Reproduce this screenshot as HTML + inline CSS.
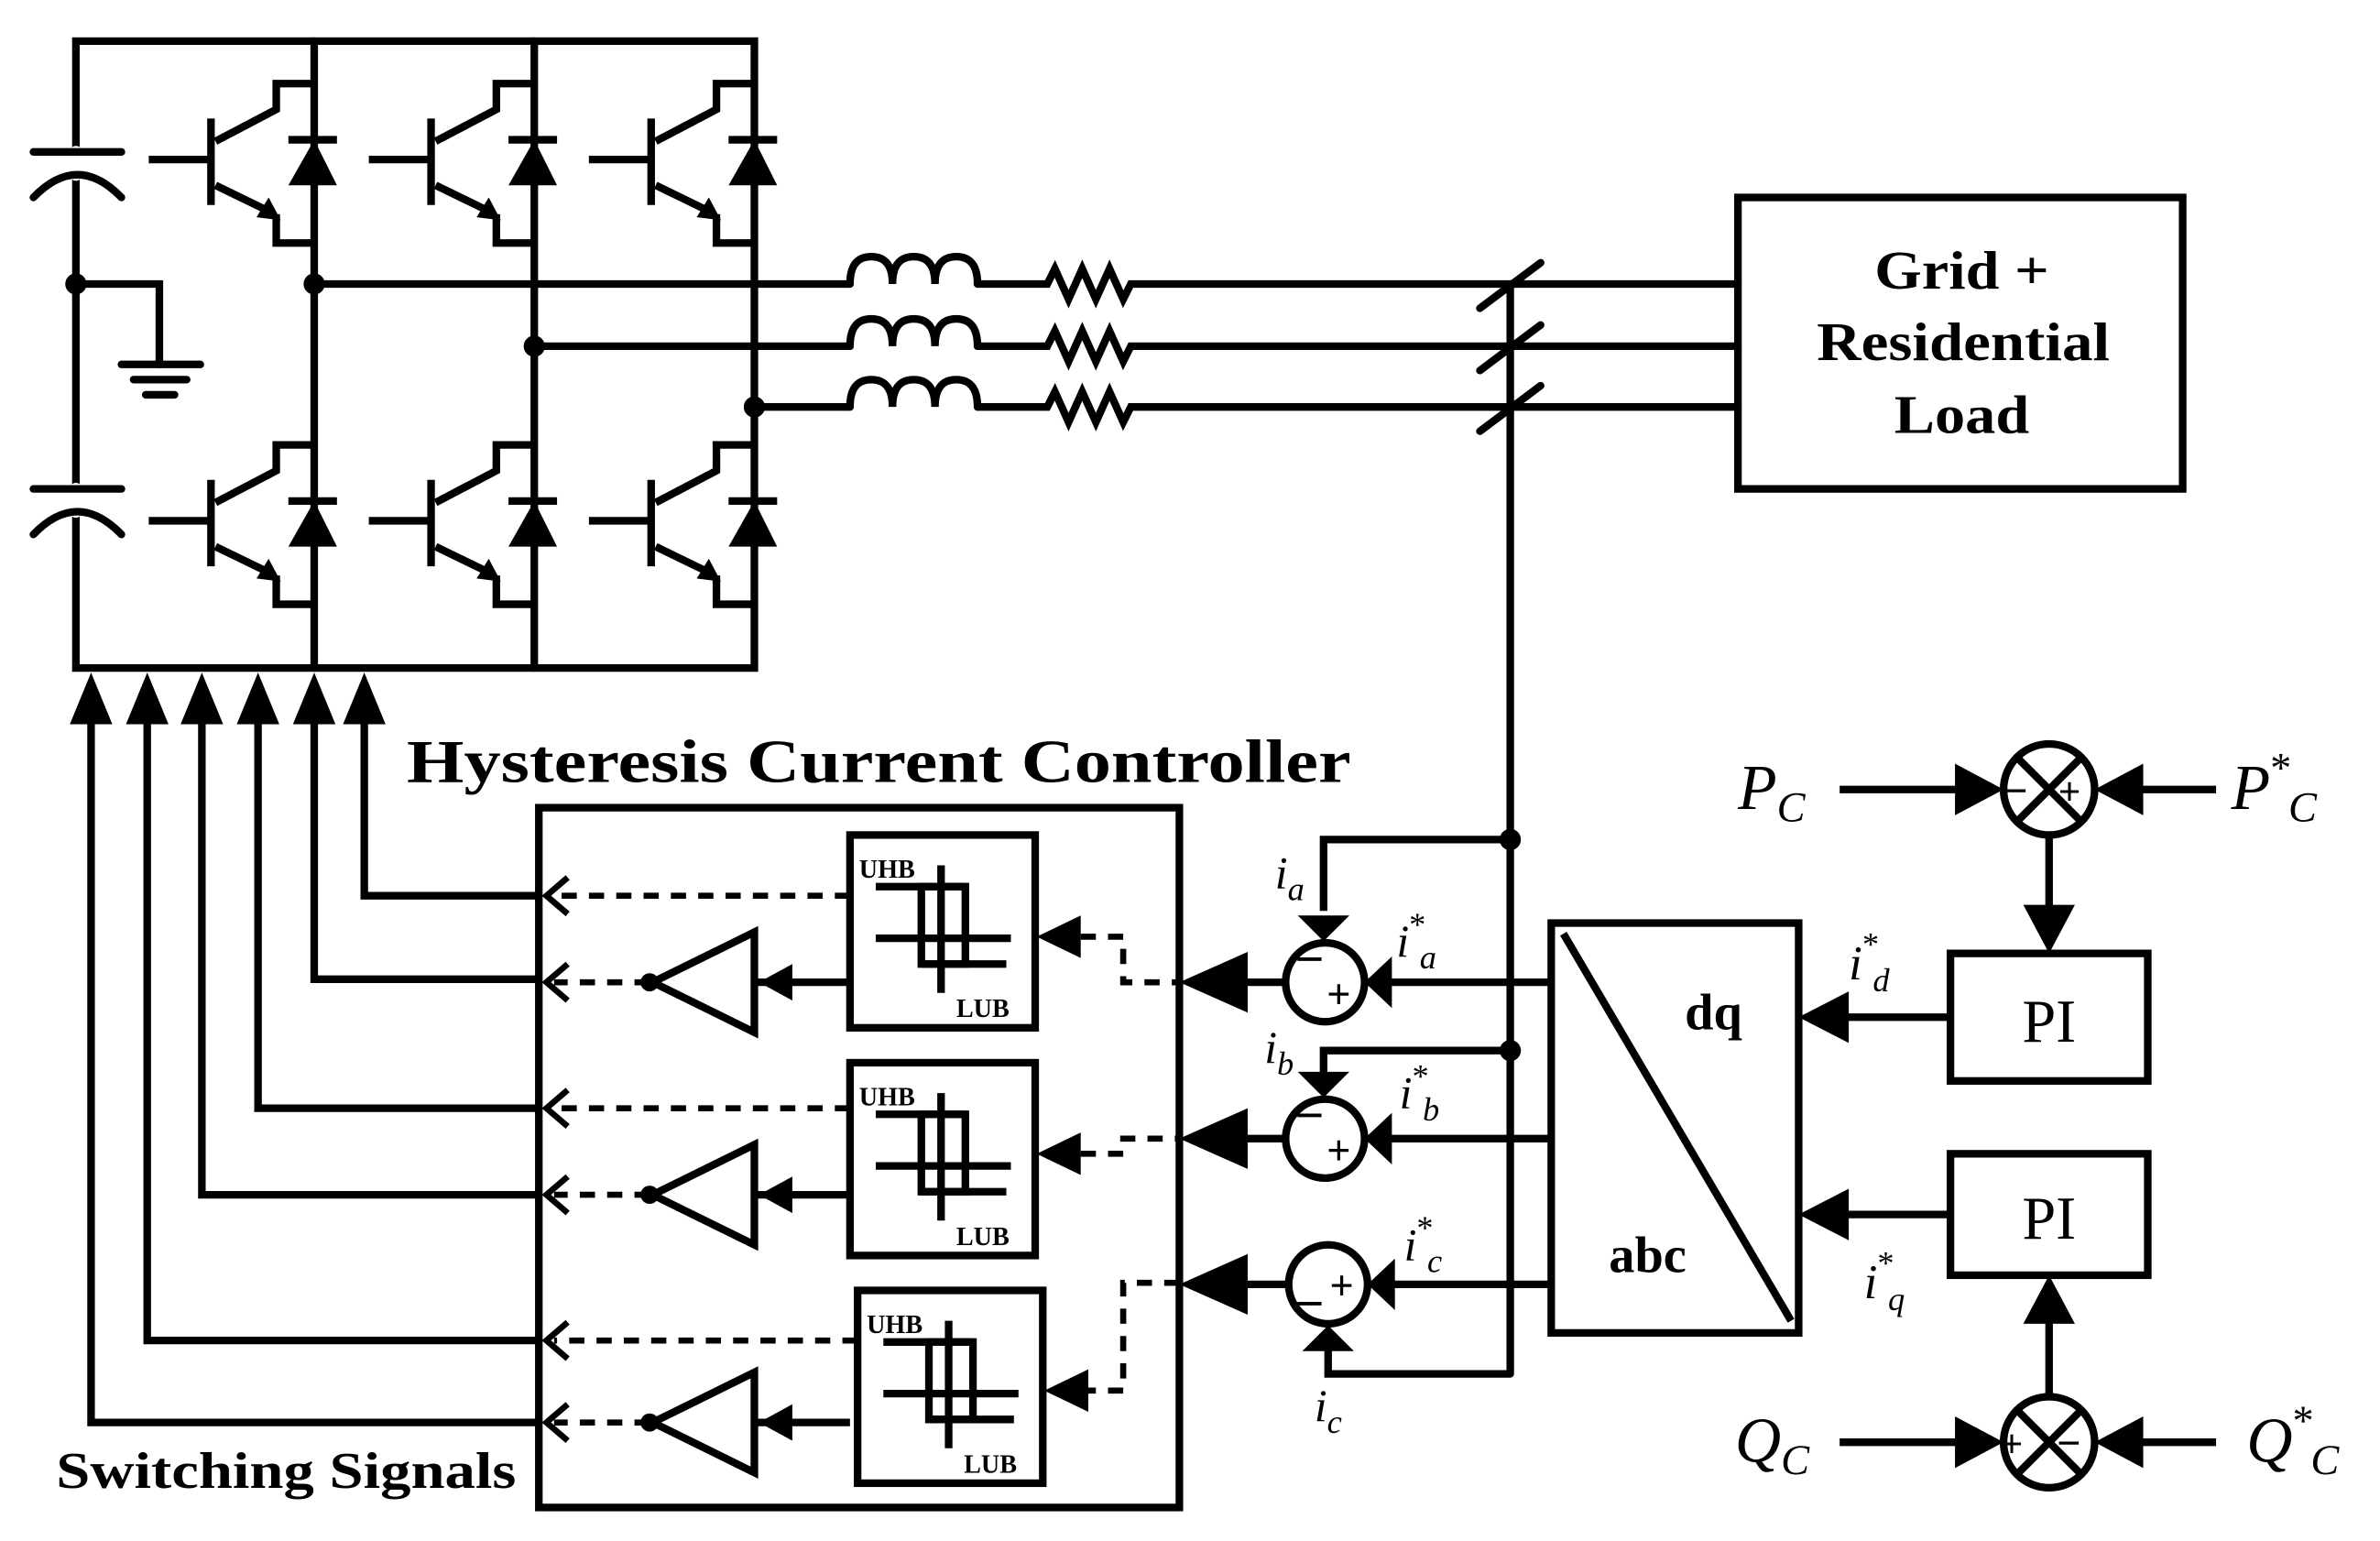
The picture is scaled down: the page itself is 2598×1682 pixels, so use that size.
<!DOCTYPE html>
<html><head><meta charset="utf-8"><style>
html,body{margin:0;padding:0;background:#fff}
svg{display:block}
text{font-family:"Liberation Serif",serif;fill:#000}
.b{font-weight:bold}
.i{font-style:italic}
</style></head><body>
<svg width="2598" height="1682" viewBox="0 0 1568 1015" xmlns="http://www.w3.org/2000/svg">
<g fill="none" stroke="#000" stroke-width="5" stroke-linecap="round" stroke-linejoin="miter">
<path d="M50,27 H497 V440 H50 Z"/>
<line x1="207" y1="27" x2="207" y2="440"/>
<line x1="352" y1="27" x2="352" y2="440"/>
<line x1="50" y1="100" x2="50" y2="115" stroke="#fff" stroke-width="8"/>
<line x1="50" y1="322" x2="50" y2="337" stroke="#fff" stroke-width="8"/>
<line x1="22" y1="100" x2="80" y2="100"/>
<path d="M22,130 Q51,100 80,130"/>
<line x1="22" y1="322" x2="80" y2="322"/>
<path d="M22,352 Q51,322 80,352"/>
<path d="M50,187 H105 V240"/>
<line x1="80" y1="240" x2="132" y2="240"/>
<line x1="88" y1="250" x2="123" y2="250"/>
<line x1="96" y1="260" x2="115" y2="260"/>
<line x1="207" y1="187" x2="560" y2="187"/>
<line x1="352" y1="228" x2="560" y2="228"/>
<line x1="497" y1="268" x2="560" y2="268"/>
<path d="M560,187 q0,-18 14,-18 q14,0 14,18 q0,-18 14,-18 q14,0 14,18 q0,-18 14,-18 q14,0 14,18"/>
<path d="M560,228 q0,-18 14,-18 q14,0 14,18 q0,-18 14,-18 q14,0 14,18 q0,-18 14,-18 q14,0 14,18"/>
<path d="M560,268 q0,-18 14,-18 q14,0 14,18 q0,-18 14,-18 q14,0 14,18 q0,-18 14,-18 q14,0 14,18"/>
<path d="M644,187 H690 l5,-10 l9,20 l9,-20 l9,20 l9,-20 l9,20 l5,-10 H1145"/>
<path d="M644,228 H690 l5,-10 l9,20 l9,-20 l9,20 l9,-20 l9,20 l5,-10 H1145"/>
<path d="M644,268 H690 l5,-10 l9,20 l9,-20 l9,20 l9,-20 l9,20 l5,-10 H1145"/>
<line x1="975" y1="203" x2="1015" y2="173"/>
<line x1="975" y1="244" x2="1015" y2="214"/>
<line x1="975" y1="284" x2="1015" y2="254"/>
<line x1="995" y1="187" x2="995" y2="905"/>
<rect x="1145" y="130" width="293" height="192"/>
</g>
<defs>
<g id="igbt">
<g fill="none" stroke="#000" stroke-width="5">
<line x1="-109" y1="0" x2="-70" y2="0"/>
<line x1="-68" y1="-27" x2="-68" y2="30"/>
<path d="M-65,-12 L-25,-33 V-50 H0"/>
<path d="M-65,17 L-30,34"/>
<path d="M-25,36 V55 H0"/>
<line x1="-17" y1="-13" x2="15" y2="-13"/>
</g>
<polygon points="-22,40 -38,38 -30,25" fill="#000"/>
<polygon points="0,-13 -17,17 15,17" fill="#000"/>
</g>
</defs>
<use href="#igbt" x="207" y="105"/>
<use href="#igbt" x="352" y="105"/>
<use href="#igbt" x="497" y="105"/>
<use href="#igbt" x="207" y="343"/>
<use href="#igbt" x="352" y="343"/>
<use href="#igbt" x="497" y="343"/>
<g fill="#000">
<circle cx="50" cy="187" r="7"/>
<circle cx="207" cy="187" r="7"/>
<circle cx="352" cy="228" r="7"/>
<circle cx="497" cy="268" r="7"/>
<circle cx="995" cy="553" r="7"/>
<circle cx="995" cy="692" r="7"/>
</g>
<text x="1235" y="190" font-size="36" class="b" textLength="115" lengthAdjust="spacingAndGlyphs">Grid +</text>
<text x="1197" y="237" font-size="36" class="b" textLength="193" lengthAdjust="spacingAndGlyphs">Residential</text>
<text x="1248" y="285" font-size="36" class="b" textLength="89" lengthAdjust="spacingAndGlyphs">Load</text>
<g fill="none" stroke="#000" stroke-width="5">
<path d="M60,470 V937 H355"/>
<path d="M97,470 V883 H355"/>
<path d="M133,470 V787 H355"/>
<path d="M170,470 V730 H355"/>
<path d="M207,470 V645 H355"/>
<path d="M240,470 V590 H355"/>
<rect x="355" y="532" width="422" height="461"/>
</g>
<g fill="#000">
<polygon points="60,443 46,477 74,477"/>
<polygon points="97,443 83,477 111,477"/>
<polygon points="133,443 119,477 147,477"/>
<polygon points="170,443 156,477 184,477"/>
<polygon points="207,443 193,477 221,477"/>
<polygon points="240,443 226,477 254,477"/>
</g>
<text x="268" y="515" font-size="40" class="b" textLength="622" lengthAdjust="spacingAndGlyphs">Hysteresis Current Controller</text>
<text x="37" y="980" font-size="34" class="b" textLength="303" lengthAdjust="spacingAndGlyphs">Switching Signals</text>
<g fill="none" stroke="#000" stroke-width="4">
<g stroke-dasharray="10,8">
<line x1="560" y1="590" x2="365" y2="590"/>
<line x1="428" y1="647" x2="365" y2="647"/>
<line x1="560" y1="730" x2="365" y2="730"/>
<line x1="428" y1="787" x2="365" y2="787"/>
<line x1="565" y1="883" x2="365" y2="883"/>
<line x1="428" y1="937" x2="365" y2="937"/>
<path d="M712,617 H740 V647 H777"/>
<path d="M712,760 H740 V750 H777"/>
<path d="M712,916 H740 V845 H777"/>
</g>
<path d="M374,578 L360,590 L374,602"/>
<path d="M374,635 L360,647 L374,659"/>
<path d="M374,718 L360,730 L374,742"/>
<path d="M374,775 L360,787 L374,799"/>
<path d="M374,871 L360,883 L374,895"/>
<path d="M374,925 L360,937 L374,949"/>
</g>
<defs>
<g id="hyst">
<rect x="0" y="0" width="122" height="127" fill="none" stroke="#000" stroke-width="5"/>
<g fill="none" stroke="#000" stroke-width="5">
<line x1="17" y1="34" x2="76" y2="34"/>
<path d="M47,34 H76 V85 H47 Z"/>
<line x1="17" y1="68" x2="106" y2="68"/>
<line x1="47" y1="85" x2="103" y2="85"/>
<line x1="60" y1="20" x2="60" y2="104"/>
</g>
<text x="6" y="28" font-size="17" class="b">UHB</text>
<text x="70" y="120" font-size="17" class="b">LUB</text>
</g>
<g id="cmp">
<polygon points="0,0 67,-33 67,33" fill="none" stroke="#000" stroke-width="5"/>
<circle cx="-2" cy="0" r="6" fill="#000"/>
<line x1="67" y1="0" x2="130" y2="0" stroke="#000" stroke-width="5"/>
<polygon points="70,0 92,-12 92,12" fill="#000"/>
</g>
</defs>
<use href="#hyst" x="560" y="550"/>
<use href="#hyst" x="560" y="700"/>
<use href="#hyst" x="565" y="850"/>
<use href="#cmp" x="430" y="647"/>
<use href="#cmp" x="430" y="787"/>
<use href="#cmp" x="430" y="937"/>
<g fill="#000">
<polygon points="683,617 712,603 712,631"/>
<polygon points="683,760 712,746 712,774"/>
<polygon points="688,916 717,902 717,930"/>
<polygon points="777,647 822,627 822,667"/>
<polygon points="777,750 822,730 822,770"/>
<polygon points="777,846 822,826 822,866"/>
</g>
<g fill="none" stroke="#000" stroke-width="5">
<line x1="822" y1="647" x2="847" y2="647"/>
<line x1="822" y1="750" x2="847" y2="750"/>
<line x1="822" y1="846" x2="849" y2="846"/>
<circle cx="873" cy="647" r="26"/>
<circle cx="873" cy="750" r="26"/>
<circle cx="875" cy="846" r="26"/>
<line x1="1022" y1="647" x2="910" y2="647"/>
<line x1="1022" y1="750" x2="910" y2="750"/>
<line x1="1022" y1="846" x2="912" y2="846"/>
<path d="M995,553 H872 V600"/>
<path d="M995,692 H872 V710"/>
<path d="M995,905 H875 V885"/>
</g>
<g fill="#000">
<polygon points="899,647 917,630 917,664"/>
<polygon points="899,750 917,733 917,767"/>
<polygon points="901,846 919,829 919,863"/>
<polygon points="872,620 855,603 889,603"/>
<polygon points="872,723 855,706 889,706"/>
<polygon points="875,873 858,890 892,890"/>
</g>
<g font-family="Liberation Sans,sans-serif" font-weight="bold">
<text x="853" y="643" font-size="34">−</text><text x="874" y="664" font-size="28">+</text>
<text x="853" y="746" font-size="34">−</text><text x="874" y="767" font-size="28">+</text>
<text x="876" y="856" font-size="28">+</text><text x="853" y="870" font-size="34">−</text>
</g>
<g class="i" font-size="30">
<text x="840" y="585">i<tspan font-size="22" dy="8">a</tspan></text>
<text x="920" y="630">i<tspan font-size="22" dy="-14" font-style="normal">*</tspan><tspan font-size="22" dx="-4" dy="22">a</tspan></text>
<text x="833" y="700">i<tspan font-size="22" dy="8">b</tspan></text>
<text x="922" y="730">i<tspan font-size="22" dy="-14" font-style="normal">*</tspan><tspan font-size="22" dx="-4" dy="22">b</tspan></text>
<text x="925" y="830">i<tspan font-size="22" dy="-14" font-style="normal">*</tspan><tspan font-size="22" dx="-4" dy="22">c</tspan></text>
<text x="866" y="936">i<tspan font-size="22" dy="8">c</tspan></text>
</g>
<g fill="none" stroke="#000" stroke-width="5">
<rect x="1022" y="608" width="163" height="270"/>
<line x1="1030" y1="615" x2="1180" y2="870"/>
<rect x="1285" y="628" width="130" height="84"/>
<rect x="1285" y="760" width="130" height="80"/>
<line x1="1285" y1="670" x2="1215" y2="670"/>
<line x1="1285" y1="800" x2="1215" y2="800"/>
<circle cx="1350" cy="520" r="30"/>
<line x1="1329" y1="499" x2="1371" y2="541"/><line x1="1371" y1="499" x2="1329" y2="541"/>
<circle cx="1350" cy="950" r="30"/>
<line x1="1329" y1="929" x2="1371" y2="971"/><line x1="1371" y1="929" x2="1329" y2="971"/>
<line x1="1212" y1="520" x2="1290" y2="520"/>
<line x1="1460" y1="520" x2="1410" y2="520"/>
<line x1="1212" y1="950" x2="1290" y2="950"/>
<line x1="1460" y1="950" x2="1410" y2="950"/>
<line x1="1350" y1="550" x2="1350" y2="600"/>
<line x1="1350" y1="920" x2="1350" y2="870"/>
</g>
<g fill="#000">
<polygon points="1185,670 1218,653 1218,687"/>
<polygon points="1185,800 1218,783 1218,817"/>
<polygon points="1320,520 1288,503 1288,537"/>
<polygon points="1380,520 1412,503 1412,537"/>
<polygon points="1320,950 1288,933 1288,967"/>
<polygon points="1380,950 1412,933 1412,967"/>
<polygon points="1350,628 1333,596 1367,596"/>
<polygon points="1350,840 1333,872 1367,872"/>
</g>
<g font-family="Liberation Sans,sans-serif" font-weight="bold">
<text x="1320" y="530" font-size="28">−</text><text x="1356" y="530" font-size="26">+</text>
<text x="1318" y="960" font-size="26">+</text><text x="1355" y="960" font-size="28">−</text>
</g>
<text x="1110" y="678" font-size="34" class="b">dq</text>
<text x="1060" y="838" font-size="34" class="b">abc</text>
<text x="1350" y="686" font-size="40" text-anchor="middle">PI</text>
<text x="1350" y="816" font-size="40" text-anchor="middle">PI</text>
<g class="i">
<text x="1218" y="645" font-size="32">i<tspan font-size="22" dy="-16" font-style="normal">*</tspan><tspan font-size="22" dx="-4" dy="24">d</tspan></text>
<text x="1228" y="855" font-size="32">i<tspan font-size="22" dy="-16" font-style="normal">*</tspan><tspan font-size="22" dx="-4" dy="24">q</tspan></text>
<text x="1145" y="533" font-size="42">P<tspan font-size="28" dy="8">C</tspan></text>
<text x="1470" y="533" font-size="42">P<tspan font-size="28" dy="-18" font-style="normal">*</tspan><tspan font-size="28" dx="-2" dy="26">C</tspan></text>
<text x="1143" y="963" font-size="42">Q<tspan font-size="28" dy="8">C</tspan></text>
<text x="1480" y="963" font-size="42">Q<tspan font-size="28" dy="-18" font-style="normal">*</tspan><tspan font-size="28" dx="-2" dy="26">C</tspan></text>
</g>
</svg>
</body></html>
